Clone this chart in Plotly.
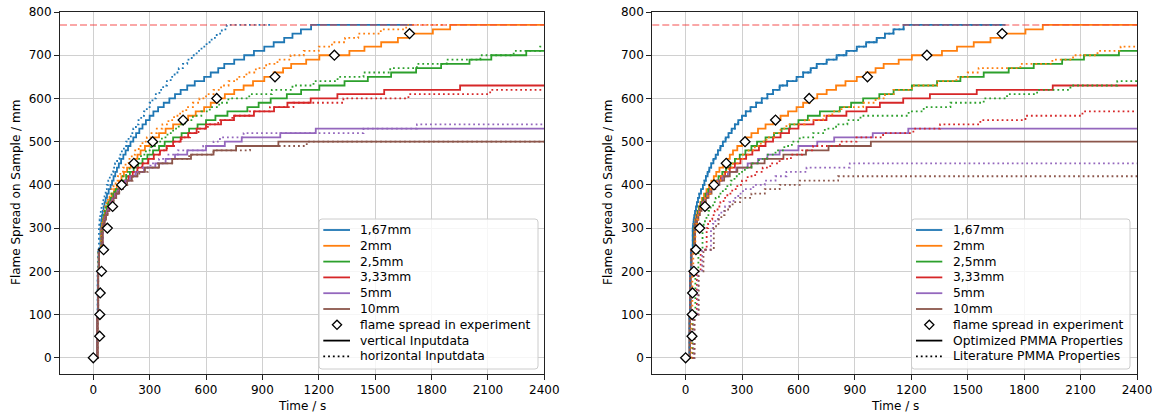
import plotly.graph_objects as go

# ---------------- data ----------------
# flame-front heights (mm) reached at each step; every series lists the time (s) at which
# it reaches these levels in order, and its last entry is the time where the record ends.
levels = [0, 100, 200, 250,
          300, 310, 320, 330, 340, 350, 360, 370, 380, 390,
          400, 410, 420, 430, 440, 450, 460, 470, 480, 490,
          500, 510, 520, 530, 540, 550, 560, 570, 580, 590,
          600, 610, 620, 630, 640, 650, 660, 670, 680, 690,
          700, 710, 720, 730, 740, 750, 760, 770]

thickness_labels = ["1,67mm", "2mm", "2,5mm", "3,33mm", "5mm", "10mm"]
colors = ["#1f77b4", "#ff7f0e", "#2ca02c", "#d62728", "#9467bd", "#8c564b"]

# solid curves: vertical input data (left) = optimized PMMA properties (right)
t_167_opt = [20, 21, 24, 28,
             38, 40, 43, 46, 50, 55, 60, 66, 73, 82,
             92, 100, 108, 117, 126, 136, 148, 160, 172, 185,
             198, 213, 228, 245, 262, 280, 300, 320, 345, 375,
             405, 435, 465, 500, 540, 590, 625, 665, 697, 750,
             803, 855, 910, 960, 1016, 1060, 1105, 1159,
             1700]
t_2_opt = [20, 22, 25, 29,
           44, 47, 51, 56, 62, 70, 78, 87, 98, 111,
           125, 137, 150, 163, 180, 200, 218, 235, 252, 275,
           300, 325, 350, 385, 425, 465, 505, 545, 590, 625,
           660, 700, 750, 800, 850, 910, 960, 1010, 1053, 1133,
           1203, 1363, 1443, 1532, 1621, 1674, 1807, 1899,
           2400]
t_25_opt = [20, 22, 26, 30,
            46, 50, 54, 59, 65, 73, 82, 93, 106, 120,
            140, 157, 175, 195, 215, 238, 262, 288, 318, 350,
            380, 425, 470, 510, 555, 600, 650, 714, 820, 880,
            944, 1030, 1106, 1203, 1337, 1461, 1585, 1718, 1851, 2002,
            2118, 2304,
            2400]
t_333_opt = [20, 22, 26, 31,
             48, 52, 57, 63, 70, 78, 88, 100, 114, 130,
             150, 168, 188, 210, 235, 262, 292, 322, 355, 390,
             425, 465, 505, 550, 600, 680, 749, 855, 962, 1033,
             1157, 1299, 1548, 1952,
             2400]
t_5_opt = [20, 22, 26, 31,
           50, 54, 59, 65, 72, 80, 90, 102, 116, 132,
           150, 170, 195, 225, 270, 330, 385, 435, 500, 600,
           700, 790, 995, 1184,
           2400]
t_10_opt = [20, 22, 26, 31,
            50, 55, 61, 68, 76, 85, 96, 108, 122, 138,
            158, 180, 205, 235, 275, 350, 420, 520, 640, 760,
            985,
            2400]

# dotted curves, left panel: horizontal input data
t_167_hor = [20, 21, 23, 25,
             30, 32, 34, 37, 40, 44, 49, 54, 60, 66,
             72, 80, 88, 97, 106, 116, 127, 139, 152, 163,
             175, 188, 200, 213, 227, 241, 255, 270, 285, 300,
             315, 333, 352, 372, 392, 412, 433, 455, 477, 500,
             524, 550, 576, 603, 630, 657, 684, 710,
             955]
t_2_hor = [20, 22, 25, 28,
           42, 45, 48, 52, 57, 63, 70, 78, 87, 97,
           108, 119, 131, 144, 158, 172, 188, 205, 223, 242,
           262, 285, 310, 338, 368, 400, 430, 462, 495, 530,
           565, 600, 640, 680, 720, 765, 815, 865, 920, 980,
           1050, 1120, 1200, 1270, 1340, 1410, 1530, 1665,
           1880]
t_25_hor = [20, 22, 25, 29,
            45, 48, 52, 56, 62, 68, 76, 86, 98, 112,
            128, 142, 158, 175, 193, 212, 232, 254, 280, 308,
            337, 365, 395, 425, 455, 488, 530, 575, 620, 670,
            719, 830, 950, 1060, 1172, 1300, 1438, 1580, 1722, 1881,
            2060, 2237, 2378,
            2400]
t_333_hor = [20, 22, 26, 31,
             48, 52, 57, 63, 71, 80, 90, 102, 116, 132,
             150, 168, 188, 210, 234, 260, 290, 322, 356, 392,
             430, 470, 515, 560, 610, 665, 740, 830, 940, 1065,
             1331, 1677, 2112,
             2400]
t_5_hor = [20, 22, 26, 31,
           50, 54, 59, 65, 72, 80, 90, 102, 116, 132,
           150, 170, 195, 225, 262, 305, 350, 400, 450, 585,
           640, 674, 800, 1438, 1722,
           2400]
t_10_hor = [20, 22, 26, 31,
            50, 55, 61, 68, 76, 85, 96, 108, 122, 138,
            158, 182, 210, 245, 290, 345, 420, 510, 640, 834,
            1136,
            2400]

# dotted curves, right panel: literature PMMA properties
t_167_lit = t_167_opt
t_2_lit = [28, 31, 36, 41,
           52, 56, 61, 67, 74, 82, 92, 104, 118, 134,
           152, 168, 186, 206, 228, 252, 278, 305, 335, 368,
           400, 430, 470, 505, 536, 634, 731, 780, 829, 944,
           1010, 1060, 1106, 1203, 1337, 1440, 1500, 1558, 1780, 1950,
           2060, 2190, 2313,
           2400]
t_25_lit = [33, 38, 52, 68,
            90, 96, 103, 111, 121, 133, 146, 160, 177, 198,
            222, 240, 260, 285, 315, 350, 390, 432, 478, 525,
            565, 607, 678, 740, 800, 860, 930, 1186, 1266, 1408,
            1585, 1709, 1869, 2046, 2295,
            2400]
t_333_lit = [35, 42, 60, 80,
             112, 120, 130, 142, 155, 170, 185, 202, 222, 248,
             275, 300, 330, 370, 410, 450, 500, 560, 620, 678,
             820, 909, 1050, 1211, 1353, 1567, 1807, 2110,
             2400]
t_5_lit = [38, 46, 66, 88,
           135, 145, 158, 172, 190, 210, 232, 255, 280, 305,
           360, 421, 478, 536, 643, 873,
           2400]
t_10_lit = [40, 48, 70, 95,
            150, 162, 175, 190, 207, 226, 250, 290, 350, 421,
            500, 607, 811,
            2400]

opt_series = [t_167_opt, t_2_opt, t_25_opt, t_333_opt, t_5_opt, t_10_opt]
hor_series = [t_167_hor, t_2_hor, t_25_hor, t_333_hor, t_5_hor, t_10_hor]
lit_series = [t_167_lit, t_2_lit, t_25_lit, t_333_lit, t_5_lit, t_10_lit]

# experiment
exp_time = [0, 34, 35, 37, 44, 55, 75, 103, 151, 216, 316, 478, 657, 967, 1283, 1683]
exp_height = [0, 50, 100, 150, 200, 250, 300, 350, 400, 450, 500, 550, 600, 650, 700, 750]

sample_length = 770
x_ticks = [0, 300, 600, 900, 1200, 1500, 1800, 2100, 2400]
y_ticks = [0, 100, 200, 300, 400, 500, 600, 700, 800]
x_range = [-177, 2400.01]
y_range = [-37.5, 800.01]


def heights_for(times):
    n = len(times) - 1
    return levels[:n] + [levels[n - 1]]


# ---------------- figure ----------------
fig = go.Figure()
LW = 1.8
DOT = "1.8px,3px"

panels = [("x", "y", hor_series), ("x2", "y2", lit_series)]
for xa, ya, dotted in panels:
    for i, ts in enumerate(opt_series):
        fig.add_trace(go.Scatter(x=ts, y=heights_for(ts), mode="lines", line_shape="hv",
                                 line=dict(color=colors[i], width=LW),
                                 xaxis=xa, yaxis=ya, hoverinfo="skip"))
    for i, ts in enumerate(dotted):
        fig.add_trace(go.Scatter(x=ts, y=heights_for(ts), mode="lines", line_shape="hv",
                                 line=dict(color=colors[i], width=LW, dash=DOT),
                                 xaxis=xa, yaxis=ya, hoverinfo="skip"))
    fig.add_trace(go.Scatter(x=exp_time, y=exp_height, mode="markers",
                             marker=dict(symbol="diamond", size=7.6, color="white",
                                         line=dict(color="black", width=1.3)),
                             xaxis=xa, yaxis=ya, hoverinfo="skip"))

# plot area in pixels: x 60..1137, y 12..374
L, R, T, B = 60, 1137, 12, 374
W, H = R - L, B - T


def X(px):
    return (px - L) / W


def Y(py):
    return (B - py) / H


axis_common = dict(showgrid=True, gridcolor="#d0d0d0", gridwidth=1, showline=True,
                   linecolor="#222222", linewidth=1, mirror=True, ticks="outside",
                   ticklen=5, tickwidth=1, tickcolor="#222222", zeroline=False,
                   automargin=False, tickfont=dict(size=12, color="black"))

fig.update_layout(
    width=1156, height=416,
    margin=dict(l=L, r=1156 - R, t=T, b=416 - B, autoexpand=False),
    plot_bgcolor="white", paper_bgcolor="white",
    showlegend=False,
    font=dict(family="DejaVu Sans", size=12, color="black"),
    xaxis=dict(domain=[0, X(544.3)], range=x_range, tickvals=x_ticks, anchor="y", **axis_common),
    yaxis=dict(domain=[0, 1], range=y_range, tickvals=y_ticks, anchor="x", **axis_common),
    xaxis2=dict(domain=[X(652.3), 1], range=x_range, tickvals=x_ticks, anchor="y2", **axis_common),
    yaxis2=dict(domain=[0, 1], range=y_range, tickvals=y_ticks, anchor="x2", **axis_common),
)

shapes = []
annotations = []

# sample length line
for xr, yr in [("x domain", "y"), ("x2 domain", "y2")]:
    shapes.append(dict(type="line", xref=xr, yref=yr, x0=0, x1=1, y0=sample_length, y1=sample_length,
                       line=dict(color="rgba(245,60,60,0.6)", width=1.6, dash="7px,3px"), layer="above"))

# axis titles
for cx in [16, 608]:
    annotations.append(dict(text="Flame Spread on Sample / mm", x=X(cx), y=0.5, xref="paper", yref="paper",
                            textangle=-90, showarrow=False, xanchor="center", yanchor="middle",
                            font=dict(size=12)))
for cx in [302, 894.5]:
    annotations.append(dict(text="Time / s", x=X(cx), y=Y(406), xref="paper", yref="paper",
                            showarrow=False, xanchor="center", yanchor="middle", font=dict(size=12)))


def rounded_box(x0, x1, y0, y1, r=3):
    pts = [
        f"M{X(x0 + r)},{Y(y0)}", f"L{X(x1 - r)},{Y(y0)}", f"Q{X(x1)},{Y(y0)} {X(x1)},{Y(y0 + r)}",
        f"L{X(x1)},{Y(y1 - r)}", f"Q{X(x1)},{Y(y1)} {X(x1 - r)},{Y(y1)}",
        f"L{X(x0 + r)},{Y(y1)}", f"Q{X(x0)},{Y(y1)} {X(x0)},{Y(y1 - r)}",
        f"L{X(x0)},{Y(y0 + r)}", f"Q{X(x0)},{Y(y0)} {X(x0 + r)},{Y(y0)}", "Z"]
    return " ".join(pts)


legends = [
    dict(box=(319, 538), handle=(323.3, 350), text_x=357.5, diamond_x=337,
         extra=["vertical Inputdata", "horizontal Inputdata"]),
    dict(box=(911.5, 1130), handle=(916, 942.3), text_x=950.5, diamond_x=929.3,
         extra=["Optimized PMMA Properties", "Literature PMMA Properties"]),
]
row_y = [230 + 15.8 * k for k in range(9)]

for lg in legends:
    bx0, bx1 = lg["box"]
    shapes.append(dict(type="path", xref="paper", yref="paper", path=rounded_box(bx0, bx1, 219, 369),
                       fillcolor="rgba(255,255,255,0.8)", line=dict(color="#cccccc", width=1),
                       layer="above"))
    hx0, hx1 = lg["handle"]
    labels = thickness_labels + ["flame spread in experiment"] + lg["extra"]
    for k, lab in enumerate(labels):
        yk = row_y[k]
        if k < 6:
            shapes.append(dict(type="line", xref="paper", yref="paper", x0=X(hx0), x1=X(hx1),
                               y0=Y(yk), y1=Y(yk), line=dict(color=colors[k], width=LW), layer="above"))
        elif k == 6:
            shapes.append(dict(type="path", xref="paper", yref="paper", xsizemode="pixel",
                               ysizemode="pixel", xanchor=X(lg["diamond_x"]), yanchor=Y(yk),
                               path="M-4.6,0 L0,4.6 L4.6,0 L0,-4.6 Z", fillcolor="white",
                               line=dict(color="black", width=1.3), layer="above"))
        elif k == 7:
            shapes.append(dict(type="line", xref="paper", yref="paper", x0=X(hx0), x1=X(hx1),
                               y0=Y(yk), y1=Y(yk), line=dict(color="black", width=LW), layer="above"))
        else:
            shapes.append(dict(type="line", xref="paper", yref="paper", x0=X(hx0), x1=X(hx1),
                               y0=Y(yk), y1=Y(yk), line=dict(color="black", width=LW, dash=DOT),
                               layer="above"))
        annotations.append(dict(text=lab, x=X(lg["text_x"]), y=Y(yk), xref="paper", yref="paper",
                                showarrow=False, xanchor="left", yanchor="middle",
                                font=dict(size=12.3, color="black")))

fig.update_layout(shapes=shapes, annotations=annotations)
fig.write_html("out.html", post_script="document.body.style.margin='0';",
               config={"displayModeBar": False})
